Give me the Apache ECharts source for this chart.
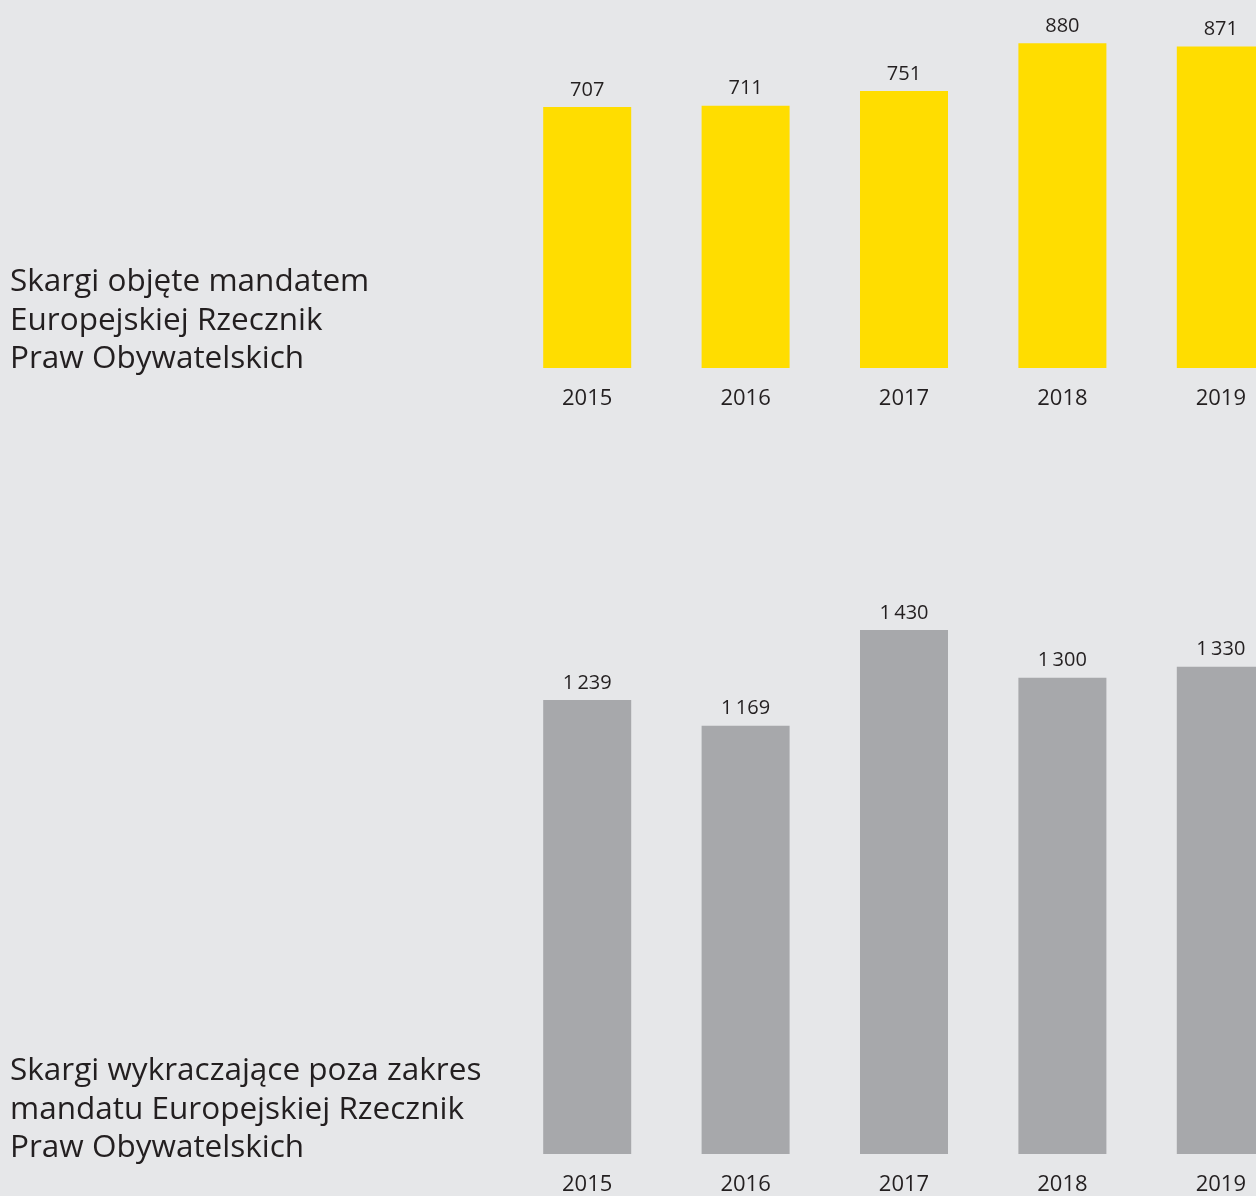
<!DOCTYPE html>
<html>
<head>
<meta charset="utf-8">
<script src="https://cdn.jsdelivr.net/npm/echarts@6/dist/echarts.min.js"></script>
<style>
html, body { margin: 0; padding: 0; background: #e6e7e9; overflow: hidden; }
#main { width: 1310px; height: 1196px; }
</style>
</head>
<body>
<div id="main"></div>
<script>
var years = ['2015', '2016', '2017', '2018', '2019'];
var inMandate = [707, 711, 751, 880, 871];
var outMandate = [1239, 1169, 1430, 1300, 1330];
var labelTop = 'Skargi objęte mandatem\nEuropejskiej Rzecznik\nPraw Obywatelskich';
var labelBottom = 'Skargi wykraczające poza zakres\nmandatu Europejskiej Rzecznik\nPraw Obywatelskich';

var chart = echarts.init(document.getElementById('main'));

// thousands separated by a thin space, as in the print version
function fmt(v) {
    var s = String(v);
    if (s.length > 3) s = s.slice(0, s.length - 3) + '\u2009' + s.slice(-3);
    return s;
}

var txtColor = '#231f20';
var font = '"Open Sans", "Noto Sans", sans-serif';

function xAx(idx) {
    return {
        type: 'category',
        gridIndex: idx,
        data: years,
        axisLine: { show: false },
        axisTick: { show: false },
        axisLabel: { color: txtColor, fontSize: 22, fontFamily: font, margin: 20 }
    };
}
function yAx(idx, max) {
    return {
        type: 'value',
        gridIndex: idx,
        min: 0,
        max: max,
        show: false,
        splitLine: { show: false }
    };
}
function barLabel() {
    return {
        show: true,
        position: 'top',
        distance: 7,
        color: txtColor,
        fontSize: 20,
        fontFamily: font,
        formatter: function (p) { return fmt(p.value); }
    };
}

var option = {
    backgroundColor: '#e6e7e9',
    animation: false,
    grid: [
        { left: 508, width: 792, top: 0, height: 368 },
        { left: 508, width: 792, top: 600, height: 558 }
    ],
    xAxis: [xAx(0), xAx(1)],
    yAxis: [yAx(0, 368 / 0.369), yAx(1, 558 / 0.369)],
    series: [
        {
            type: 'bar',
            xAxisIndex: 0,
            yAxisIndex: 0,
            barWidth: 88,
            itemStyle: { color: '#ffdd00' },
            label: barLabel(),
            data: inMandate
        },
        {
            type: 'bar',
            xAxisIndex: 1,
            yAxisIndex: 1,
            barWidth: 88,
            itemStyle: { color: '#a7a8ab' },
            label: barLabel(),
            data: outMandate
        }
    ],
    graphic: [
        {
            type: 'text',
            left: 10,
            top: 263,
            style: { text: labelTop, fill: txtColor, fontSize: 31.5, fontFamily: font, lineHeight: 38.5 }
        },
        {
            type: 'text',
            left: 10,
            top: 1052,
            style: { text: labelBottom, fill: txtColor, fontSize: 31.5, fontFamily: font, lineHeight: 38.5 }
        }
    ]
};
chart.setOption(option);
</script>
</body>
</html>
